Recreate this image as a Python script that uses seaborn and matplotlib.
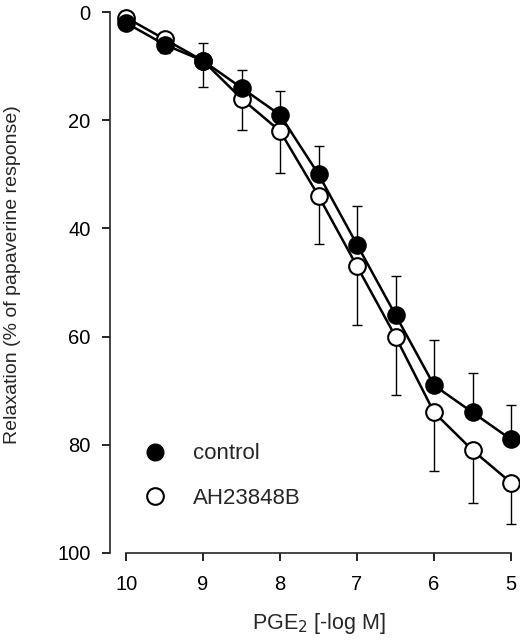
import matplotlib
matplotlib.use("Agg")
import matplotlib.pyplot as plt
from matplotlib.lines import Line2D
import numpy as np
import pandas as pd
import seaborn as sns

# -log M concentrations of PGE2
conc = [10, 9.5, 9, 8.5, 8, 7.5, 7, 6.5, 6, 5.5, 5]

control_mean = [2, 6, 9, 14, 19, 30, 43, 56, 69, 74, 79]
control_err = [1, 1.5, 3.3, 3.3, 4.4, 5.2, 7.1, 7.3, 8.3, 7.3, 6.4]

ah_mean = [1, 5, 9, 16, 22, 34, 47, 60, 74, 81, 87]
ah_err = [1, 2.6, 4.9, 5.7, 7.8, 8.8, 10.8, 10.8, 10.8, 9.8, 7.6]

x_ticks = [10, 9, 8, 7, 6, 5]
y_ticks = [0, 20, 40, 60, 80, 100]

sns.set_style("ticks")
plt.rcParams["font.family"] = ["Liberation Sans", "DejaVu Sans"]
plt.rcParams["font.size"] = 14

df = pd.concat([
    pd.DataFrame({"conc": conc, "value": control_mean, "group": "control"}),
    pd.DataFrame({"conc": conc, "value": ah_mean, "group": "AH23848B"}),
])

fig = plt.figure(figsize=(5.2, 6.4), dpi=100)
ax = fig.add_axes([0.2115, 0.136, 0.7712, 0.845])

# one-sided error bars: control upward, AH23848B downward
ax.errorbar(conc, control_mean,
            yerr=[np.array(control_err), np.zeros(len(conc))],
            fmt="none", ecolor="black", elinewidth=1, capsize=3.5,
            capthick=1, zorder=1, clip_on=False)
ax.errorbar(conc, ah_mean,
            yerr=[np.zeros(len(conc)), np.array(ah_err)],
            fmt="none", ecolor="black", elinewidth=1, capsize=3.5,
            capthick=1, zorder=1, clip_on=False)

sns.lineplot(data=df, x="conc", y="value", hue="group",
             palette={"control": "black", "AH23848B": "black"},
             linewidth=1.8, legend=False, ax=ax, zorder=2, sort=False)

ax.plot(conc, control_mean, "o", ms=12, mfc="black", mec="black",
        mew=1.4, zorder=4, clip_on=False)
ax.plot(conc, ah_mean, "o", ms=12, mfc="white", mec="black",
        mew=1.5, zorder=3, clip_on=False)
for line in ax.lines:
    line.set_clip_on(False)

ax.set_xlim(10.21, 5)
ax.set_ylim(100, 0)
ax.set_xticks(x_ticks)
ax.set_yticks(y_ticks)
ax.set_xticklabels([str(t) for t in x_ticks])
ax.set_yticklabels([str(t) for t in y_ticks])
ax.spines["top"].set_visible(False)
ax.spines["right"].set_visible(False)
ax.spines["bottom"].set_bounds(10, 5)
for s in ["left", "bottom"]:
    ax.spines[s].set_linewidth(1.2)
ax.tick_params(axis="both", direction="out", length=6, width=1.2,
               labelsize=14.5, colors="black", pad=8)
ax.tick_params(axis="x", pad=10)

ax.set_xlabel("PGE$_2$ [-log M]", fontsize=15.5)
ax.xaxis.set_label_coords(0.521, -0.108)
ax.set_ylabel("Relaxation (% of papaverine response)", fontsize=14)
ax.yaxis.set_label_coords(-0.222, 0.514)

handles = [
    Line2D([], [], ls="none", marker="o", ms=12, mfc="black", mec="black"),
    Line2D([], [], ls="none", marker="o", ms=12, mfc="white", mec="black",
           mew=1.5),
]
ax.legend(handles, ["control", "AH23848B"], loc="lower left",
          bbox_to_anchor=(0.008, 0.045), frameon=False, fontsize=16,
          handletextpad=0.68, labelspacing=1.05)

fig.savefig("out.png", dpi=100)
